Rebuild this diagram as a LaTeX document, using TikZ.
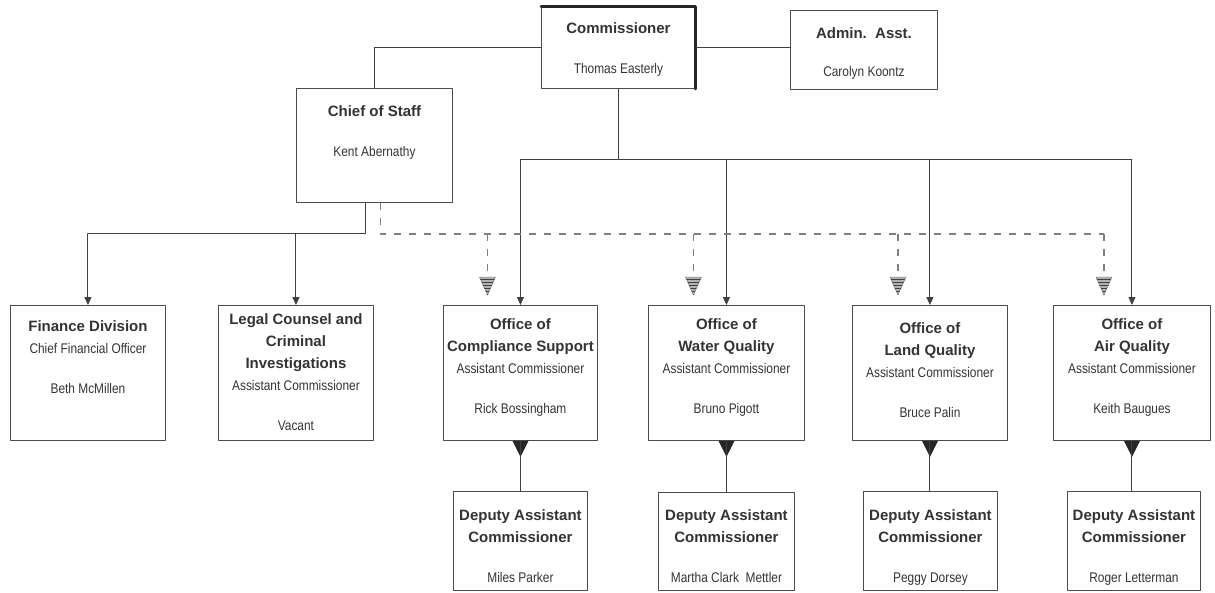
\documentclass[tikz,border=0pt]{standalone}
\usepackage{fontspec}
\setmainfont{Liberation Sans}
\newfontfamily\narrowfont[FakeStretch=0.85]{Liberation Sans}
\usetikzlibrary{arrows.meta,calc,patterns}
\newcommand\hd[1]{{\rmfamily\bfseries\fontsize{15}{22}\selectfont #1}}

\begin{document}
\begin{tikzpicture}[x=1pt,y=-1pt,line join=round,line cap=round,>={Triangle[width=7pt,length=8pt]}]
        \tikzset{box/.style={draw=black!70,line width=0.9pt,anchor=north west,inner sep=0pt},
          txt/.style={anchor=north,align=center,inner sep=0pt,text=black!80,font=\narrowfont\fontsize{14}{22}\selectfont},
          link/.style={draw=black!75,line width=1pt},
          dashlink/.style={draw=black!50,line width=1.2pt,dash pattern=on 7pt off 8pt,line cap=butt},
          hatch/.style={draw=black!60,fill=black!30}}
        \useasboundingbox (0,0) rectangle (1215,592);
        % top
        \node[box,minimum width=154pt,minimum height=82pt] (com) at (541,6) {};
        \draw[black!85,line width=3pt] (com.north west) -- (com.north east) -- (com.south east);
        \node[txt] (comt) at ($(com.north)+(0,16)$) {\hd{Commissioner}\\[18pt]Thomas Easterly};
        \node[box,minimum width=147pt,minimum height=79pt] (adm) at (790,10) {};
        \node[txt] (admt) at ($(adm.north)+(0,17)$) {\hd{Admin.\ \ Asst.}\\[16pt]Carolyn Koontz};
        \node[box,minimum width=156pt,minimum height=114pt] (cos) at (296,88) {};
        \node[txt] (cost) at ($(cos.north)+(0,17)$) {\hd{Chief of Staff}\\[18pt]Kent Abernathy};
        % divisions and offices
        \node[box,minimum width=155pt,minimum height=135pt] (fin) at (10,305) {};
        \node[txt] (fint) at ($(fin.north)+(0,15)$) {\hd{Finance Division}\\Chief Financial Officer\\[18pt]Beth McMillen};
        \node[box,minimum width=155pt,minimum height=135pt] (leg) at (218,305) {};
        \node[txt] (legt) at ($(leg.north)+(0,8)$) {\hd{Legal Counsel and}\\\hd{Criminal}\\\hd{Investigations}\\Assistant Commissioner\\[18pt]Vacant};
        \node[box,minimum width=154pt,minimum height=135pt] (ocs) at (443,305) {};
        \node[txt] (ocst) at ($(ocs.north)+(0,13)$) {\hd{Office of}\\\hd{Compliance Support}\\Assistant Commissioner\\[18pt]Rick Bossingham};
        \node[box,minimum width=156pt,minimum height=135pt] (owq) at (648,305) {};
        \node[txt] (owqt) at ($(owq.north)+(0,13)$) {\hd{Office of}\\\hd{Water Quality}\\Assistant Commissioner\\[18pt]Bruno Pigott};
        \node[box,minimum width=155pt,minimum height=135pt] (olq) at (852,305) {};
        \node[txt] (olqt) at ($(olq.north)+(0,17)$) {\hd{Office of}\\\hd{Land Quality}\\Assistant Commissioner\\[18pt]Bruce Palin};
        \node[box,minimum width=157pt,minimum height=135pt] (oaq) at (1053,305) {};
        \node[txt] (oaqt) at ($(oaq.north)+(0,13)$) {\hd{Office of}\\\hd{Air Quality}\\Assistant Commissioner\\[18pt]Keith Baugues};
        % deputies
        \node[box,minimum width=134pt,minimum height=99pt] (dcs) at (453,491) {};
        \node[txt] (dcst) at ($(dcs.north)+(0,18)$) {\hd{Deputy Assistant}\\\hd{Commissioner}\\[18pt]Miles Parker};
        \node[box,minimum width=136pt,minimum height=98pt] (dwq) at (658,492) {};
        \node[txt] (dwqt) at ($(dwq.north)+(0,17)$) {\hd{Deputy Assistant}\\\hd{Commissioner}\\[18pt]Martha Clark\ \ Mettler};
        \node[box,minimum width=134pt,minimum height=99pt] (dlq) at (863,491) {};
        \node[txt] (dlqt) at ($(dlq.north)+(0,18)$) {\hd{Deputy Assistant}\\\hd{Commissioner}\\[18pt]Peggy Dorsey};
        \node[box,minimum width=133pt,minimum height=99pt] (daq) at (1067,491) {};
        \node[txt] (daqt) at ($(daq.north)+(0,18)$) {\hd{Deputy Assistant}\\\hd{Commissioner}\\[18pt]Roger Letterman};
        % solid lines
        \draw[link] (com.west) -| (cos.north);
        \draw[link] (com.east) -- (com.east -| adm.west);
        \coordinate (bus) at ($(com.south)+(0,71)$);
        \draw[link] (com.south) -- (bus) -- (bus -| ocs.north) -- (bus -| oaq.north);
        \foreach \o in {ocs,owq,olq,oaq}
            \draw[link,->] (\o.north |- bus) -- (\o.north);
        \coordinate (cosl) at ($(cos.south)+(-9,0)$);
        \coordinate (sbus) at ($(cosl)+(0,31)$);
        \draw[link] (cosl) -- (sbus) -- (sbus -| fin.north);
        \foreach \o in {fin,leg}
            \draw[link,->] (\o.north |- sbus) -- (\o.north);
        % dashed lines
        \foreach \o/\dx in {ocs/-33,owq/-33,olq/-32,oaq/-28}
            \coordinate (t\o) at ($(\o.north)+(\dx,-28)$);
        \coordinate (cosr) at ($(cos.south)+(6,0)$);
        \coordinate (dbus) at ($(cosr)+(0,31)$);
        \draw[dashlink] (cosr) -- (dbus) -- (dbus -| toaq);
        \foreach \o in {ocs,owq,olq,oaq}{
            \draw[dashlink] (t\o |- dbus) -- (t\o);
            \filldraw[hatch] ($(t\o)+(-8,0)$) -- ($(t\o)+(8,0)$) -- ($(t\o)+(0,18)$) -- cycle;
            \fill[pattern=horizontal lines,pattern color=black!75] ($(t\o)+(-8,0)$) -- ($(t\o)+(8,0)$) -- ($(t\o)+(0,18)$) -- cycle;
        }
        % offices to deputies
        \foreach \o/\d in {ocs/dcs,owq/dwq,olq/dlq,oaq/daq}{
            \fill[black!85] ($(\o.south)+(-8,0)$) -- ($(\o.south)+(8,0)$) -- ($(\o.south)+(0,16)$) -- cycle;
            \draw[link] (\o.south) -- (\o.south |- \d.north);
        }
\end{tikzpicture}
\end{document}
